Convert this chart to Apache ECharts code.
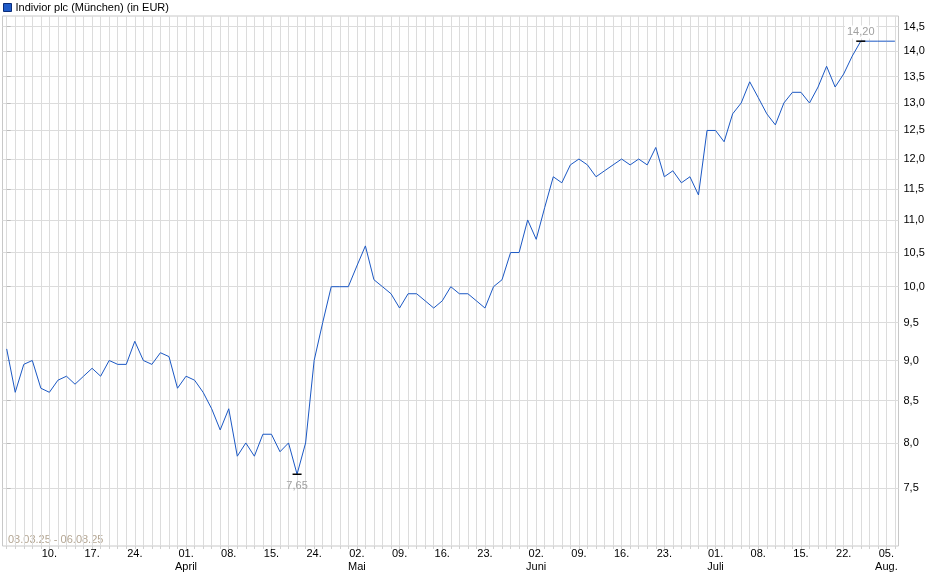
<!DOCTYPE html>
<html>
<head>
<meta charset="utf-8">
<script src="https://cdn.jsdelivr.net/npm/echarts@6/dist/echarts.min.js"></script>
<style>
  html, body { margin: 0; padding: 0; background: #fff; }
  #chart { width: 940px; height: 579px; }
</style>
</head>
<body>
<div id="chart"></div>
<script>
// Schlusskurse (ein Wert je Handelstag-Raster)
const prices = [
  9.15, 8.6, 8.95, 9.0, 8.65, 8.6, 8.75, 8.8, 8.7, 8.8,
  8.9, 8.8, 9.0, 8.95, 8.95, 9.25, 9.0, 8.95, 9.1, 9.05,
  8.65, 8.8, 8.75, 8.6, 8.4, 8.15, 8.4, 7.85, 8.0, 7.85,
  8.1, 8.1, 7.9, 8.0, 7.65, 8.0, 9.0, 9.5, 10.0, 10.0,
  10.0, 10.3, 10.6, 10.1, 10.0, 9.9, 9.7, 9.9, 9.9, 9.8,
  9.7, 9.8, 10.0, 9.9, 9.9, 9.8, 9.7, 10.0, 10.1, 10.5,
  10.5, 11.0, 10.7, 11.2, 11.7, 11.6, 11.9, 12.0, 11.9, 11.7,
  11.8, 11.9, 12.0, 11.9, 12.0, 11.9, 12.2, 11.7, 11.8, 11.6,
  11.7, 11.4, 12.5, 12.5, 12.3, 12.8, 13.0, 13.4, 13.1, 12.8,
  12.6, 13.0, 13.2, 13.2, 13.0, 13.3, 13.7, 13.3, 13.55, 13.9,
  14.2, 14.2, 14.2, 14.2, 14.2
];

// Beschriftung der x-Achse
const tickIdx = [5, 10, 15, 21, 26, 31, 36, 41, 46, 51, 56, 62, 67, 72, 77, 83, 88, 93, 98, 103];
const tickDays = ['10.', '17.', '24.', '01.', '08.', '15.', '24.', '02.', '09.', '16.',
                  '23.', '02.', '09.', '16.', '23.', '01.', '08.', '15.', '22.', '05.'];
const tickMonths = ['', '', '', 'April', '', '', '', 'Mai', '', '',
                    '', 'Juni', '', '', '', 'Juli', '', '', '', 'Aug.'];

// y-Achse
const yTicks = [7.5, 8.0, 8.5, 9.0, 9.5, 10.0, 10.5, 11.0, 11.5, 12.0, 12.5, 13.0, 13.5, 14.0, 14.5];

const seriesName = 'Indivior plc (München) (in EUR)';
const rangeLabel = '03.03.25 - 06.08.25';

document.addEventListener('DOMContentLoaded', function(){
  var chart = echarts.init(document.getElementById('chart'));

  const font = '"Liberation Sans", Arial, sans-serif';
  const comma = (v, d) => v.toFixed(d).replace('.', ',');
  const dayTicks = prices.map((v, i) => i);
  const minI = prices.indexOf(Math.min(...prices));
  const maxI = prices.indexOf(Math.max(...prices));

  chart.setOption({
    animation: false,
    backgroundColor: '#fff',
    legend: {
      left: 0, top: 0, padding: [2, 3],
      icon: 'rect', itemWidth: 8, itemHeight: 8, itemGap: 5,
      data: [seriesName],
      itemStyle: { color: '#1f5bc8', borderColor: '#0b2c78', borderWidth: 1 },
      textStyle: { color: '#000', fontSize: 11, fontFamily: font, padding: [0, 0, 0, -1] }
    },
    grid: {
      left: 2.5, right: 41.5, top: 16, bottom: 33,
      show: true, borderColor: '#c8c8c8', borderWidth: 1, backgroundColor: '#fff'
    },
    graphic: [{
      type: 'text', left: 8, top: 534,
      style: { text: rangeLabel, fill: '#b4a693', font: '11px ' + font }
    }],
    xAxis: {
      type: 'value',
      min: -0.49,
      max: 104.42,
      axisLine: { show: false },
      axisTick: { show: true, customValues: dayTicks, length: 3, lineStyle: { color: '#d0d0d0' } },
      splitLine: { show: true, lineStyle: { color: '#dcdcdc', width: 1 } },
      axisLabel: {
        customValues: tickIdx,
        color: '#000', fontSize: 11, fontFamily: font, margin: 1, lineHeight: 13,
        formatter: function(v){
          const k = tickIdx.indexOf(Math.round(v));
          if (k < 0) return '';
          return tickMonths[k] ? tickDays[k] + '\n' + tickMonths[k] : tickDays[k];
        }
      }
    },
    yAxis: {
      type: 'log',
      logBase: 10,
      position: 'right',
      min: 6.905,
      max: 14.72,
      axisLine: { show: false },
      axisTick: { show: true, customValues: yTicks, length: 4, lineStyle: { color: '#bbb' } },
      splitLine: { show: true, lineStyle: { color: '#dcdcdc', width: 1 } },
      axisLabel: {
        customValues: yTicks,
        color: '#000', fontSize: 11, fontFamily: font, margin: 5,
        formatter: v => comma(v, 1)
      }
    },
    series: [{
      name: seriesName,
      type: 'line',
      data: prices.map((v, i) => [i, v]),
      showSymbol: false,
      itemStyle: { color: '#1f5bc8' },
      lineStyle: { width: 1, color: '#1b58c4' },
      markPoint: {
        symbol: 'rect',
        symbolSize: [9, 1.5],
        itemStyle: { color: '#000' },
        data: [
          {
            coord: [minI, prices[minI]], value: prices[minI],
            label: { position: 'bottom', distance: 5 }
          },
          {
            coord: [maxI, prices[maxI]], value: prices[maxI],
            label: { position: 'top', distance: 2, backgroundColor: '#fff', padding: [1, 2] }
          }
        ],
        label: {
          show: true, color: '#a0a0a0', fontSize: 11, fontFamily: font,
          formatter: p => comma(p.value, 2)
        }
      }
    }]
  });

  window.addEventListener('resize', function(){ chart.resize(); });
});
</script>
</body>
</html>
